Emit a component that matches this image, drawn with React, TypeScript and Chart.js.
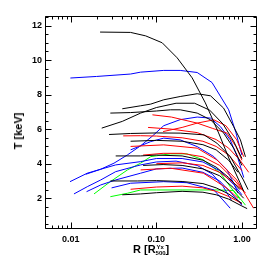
import { useEffect, useRef } from "react";
import { Chart, registerables } from "chart.js";
Chart.register(...registerables);

const X_MIN = 0.005;
const X_MAX = 1.5;
const Y_MIN = 0.22;
const Y_MAX = 12.55;
const xTickValues = [0.01, 0.1, 1];
const xTickLabels = ["0.01", "0.10", "1.00"];
const yTickValues = [2, 4, 6, 8, 10, 12];

// black profiles
const k1 = [[0.022, 11.62], [0.05, 11.6], [0.075, 11.4], [0.117, 11.0], [0.175, 10.13], [0.262, 8.97], [0.374, 7.52], [0.534, 5.78], [0.72, 4.2], [0.95, 2.9], [1.05, 2.4]];
const k2 = [[0.04, 7.18], [0.065, 7.35], [0.086, 7.45], [0.122, 7.7], [0.19, 7.89], [0.3, 8.05], [0.43, 7.93], [0.61, 7.22], [0.8, 6.15], [0.96, 5.38], [1.1, 4.4]];
const k3 = [[0.029, 6.93], [0.05, 6.96], [0.1, 7.05], [0.146, 7.12], [0.19, 7.12], [0.3, 6.93], [0.43, 6.54], [0.61, 5.78], [0.8, 4.9], [1.0, 3.9]];
const k4 = [[0.023, 6.06], [0.04, 6.45], [0.0655, 6.93], [0.1, 7.25], [0.17, 7.5], [0.28, 7.5], [0.42, 7.1], [0.6, 6.3], [0.8, 5.3], [1.0, 4.3]];
const k5 = [[0.028, 5.69], [0.05, 5.75], [0.1, 5.78], [0.19, 5.77], [0.36, 5.67], [0.51, 5.19], [0.73, 4.41], [1.04, 3.06], [1.18, 2.5]];
const k6 = [[0.0335, 4.45], [0.0655, 4.45], [0.1, 4.5], [0.2, 4.45], [0.35, 4.2], [0.5, 3.8], [0.7, 3.2], [0.95, 2.5]];
const k7 = [[0.029, 3.0], [0.06, 3.0], [0.1, 3.02], [0.2, 2.97], [0.35, 2.85], [0.5, 2.6], [0.7, 2.25], [1.0, 1.7]];
const k8 = [[0.04, 2.2], [0.0655, 2.25], [0.1, 2.32], [0.2, 2.4], [0.35, 2.35], [0.5, 2.2], [0.7, 1.95], [1.0, 1.55], [1.15, 1.4]];
const k9 = [[0.05, 5.3], [0.1, 5.35], [0.2, 5.3], [0.35, 5.1], [0.5, 4.8], [0.7, 4.2], [0.9, 3.5]];
const k10 = [[0.07, 3.9], [0.12, 3.95], [0.2, 3.9], [0.35, 3.7], [0.55, 3.3], [0.8, 2.6], [1.05, 2.0]];

// blue profiles
const u1 = [[0.0099, 8.96], [0.02, 9.05], [0.05, 9.19], [0.0655, 9.3], [0.122, 9.4], [0.19, 9.4], [0.3, 9.28], [0.447, 8.7], [0.7, 7.12], [0.85, 5.8], [1.0, 4.5]];
const u2 = [[0.0098, 2.96], [0.0156, 3.45], [0.0224, 3.68], [0.032, 4.03], [0.046, 4.51], [0.066, 5.05], [0.09, 5.6], [0.122, 6.2], [0.19, 6.55], [0.3, 6.7], [0.43, 6.64], [0.56, 6.15], [0.73, 5.38], [0.9, 4.3], [1.05, 3.2]];
const u3 = [[0.0109, 2.25], [0.0156, 2.67], [0.0224, 3.06], [0.0335, 3.54], [0.055, 3.83], [0.0655, 3.93], [0.1, 4.1], [0.17, 4.15], [0.3, 3.9], [0.45, 3.4], [0.6, 2.7], [0.75, 1.9]];
const u4 = [[0.0153, 2.38], [0.0224, 2.77], [0.0335, 3.06], [0.0655, 3.45], [0.1, 3.7], [0.2, 3.75], [0.35, 3.5], [0.55, 3.0], [0.75, 2.3], [1.0, 1.6]];
const u5 = [[0.015, 3.39], [0.0224, 3.68], [0.0335, 3.93], [0.0655, 4.12], [0.1, 4.3], [0.2, 4.3], [0.35, 4.1], [0.55, 3.6], [0.8, 2.8], [1.0, 2.2]];
const u6 = [[0.05, 4.8], [0.086, 5.28], [0.122, 5.48], [0.19, 5.38], [0.3, 4.99], [0.47, 4.41], [0.67, 3.64], [0.8, 2.87], [0.9, 2.3]];
const u7 = [[0.03, 2.6], [0.05, 2.87], [0.122, 2.96], [0.228, 2.9], [0.47, 2.48], [0.6, 1.9], [0.73, 1.42]];

// red profiles
const r1 = [[0.09, 6.83], [0.15, 6.7], [0.3, 6.35], [0.45, 6.05], [0.67, 5.77], [0.85, 5.0], [1.0, 4.2]];
const r2 = [[0.12, 5.86], [0.2, 6.1], [0.3, 6.35], [0.47, 6.54], [0.65, 6.2], [0.87, 5.38], [1.05, 4.4]];
const r3 = [[0.041, 5.61], [0.0655, 5.62], [0.1, 5.6], [0.2, 5.5], [0.35, 5.3], [0.5, 5.0], [0.7, 4.5], [1.0, 3.6]];
const r4 = [[0.05, 5.0], [0.122, 5.09], [0.3, 4.9], [0.51, 4.22], [0.87, 3.06], [1.1, 2.2], [1.37, 1.42]];
const r5 = [[0.0655, 3.64], [0.146, 3.74], [0.355, 3.45], [0.67, 2.58], [0.9, 2.0]];
const r6 = [[0.05, 2.52], [0.1, 2.65], [0.2, 2.7], [0.35, 2.6], [0.5, 2.4], [0.7, 2.1], [1.0, 1.7]];
const r7 = [[0.07, 4.5], [0.12, 4.6], [0.2, 4.6], [0.35, 4.4], [0.55, 3.9], [0.8, 3.1], [1.1, 2.3]];
const r8 = [[0.08, 6.1], [0.15, 6.0], [0.3, 5.8], [0.5, 5.4], [0.7, 4.9], [0.95, 4.2], [1.2, 3.5]];
const r9 = [[0.1, 4.0], [0.2, 4.05], [0.35, 3.9], [0.55, 3.5], [0.75, 3.0], [1.0, 2.5]];

// green profiles
const g1 = [[0.0187, 2.25], [0.029, 2.96], [0.046, 3.64], [0.0655, 4.03], [0.086, 4.41], [0.146, 4.57], [0.228, 4.57], [0.355, 4.22], [0.56, 3.45], [0.73, 2.67], [0.96, 1.9]];
const g2 = [[0.029, 2.09], [0.046, 2.29], [0.0655, 2.48], [0.1, 2.48], [0.2, 2.48], [0.5, 2.48], [0.8, 2.45], [0.95, 2.0], [1.1, 1.6]];

const blackSeries = [k1, k2, k3, k4, k5, k6, k7, k8, k9, k10];
const blueSeries = [u1, u2, u3, u4, u5, u6, u7];
const redSeries = [r1, r2, r3, r4, r5, r6, r7, r8, r9];
const greenSeries = [g1, g2];

const BLACK = "#000000";
const BLUE = "#0000ff";
const RED = "#ff0000";
const GREEN = "#00ff00";

const FONT = "'Liberation Sans', Arial, Helvetica, sans-serif";

const framePlugin = {
  id: "frameTicks",
  afterDraw(chart: any) {
    const { ctx, chartArea, scales } = chart;
    const xs = scales.x;
    const ys = scales.y;
    const L = Math.round(chartArea.left) + 0.5;
    const R = Math.round(chartArea.right) - 0.5;
    const T = Math.round(chartArea.top) + 0.5;
    const B = Math.round(chartArea.bottom) - 0.5;
    ctx.save();
    ctx.strokeStyle = "#000";
    ctx.lineWidth = 1;
    ctx.beginPath();
    ctx.rect(L, T, R - L, B - T);
    const xt: [number, boolean][] = [];
    for (const d of [0.001, 0.01, 0.1, 1]) {
      for (let m = 1; m <= 9; m++) {
        const v = m * d;
        if (v >= X_MIN && v <= X_MAX) xt.push([v, m === 1]);
      }
    }
    for (const [v, major] of xt) {
      const px = Math.round(xs.getPixelForValue(v)) + 0.5;
      const len = major ? 6 : 3;
      ctx.moveTo(px, B);
      ctx.lineTo(px, B - len);
      ctx.moveTo(px, T);
      ctx.lineTo(px, T + len);
    }
    for (let i = 1; i <= 25; i++) {
      const v = i * 0.5;
      if (v < Y_MIN || v > Y_MAX) continue;
      const major = i % 4 === 0;
      const py = Math.round(ys.getPixelForValue(v)) + 0.5;
      const len = major ? 6 : 3;
      ctx.moveTo(L, py);
      ctx.lineTo(L + len, py);
      ctx.moveTo(R, py);
      ctx.lineTo(R - len, py);
    }
    ctx.stroke();
    ctx.restore();
  },
};

function toDataset(series: number[][], color: string) {
  return {
    data: series.map(([x, y]) => ({ x, y })),
    borderColor: color,
    backgroundColor: color,
    borderWidth: 1,
    pointRadius: 0,
    tension: 0,
    fill: false,
  };
}

export default function App() {
  const ref = useRef<HTMLCanvasElement | null>(null);
  useEffect(() => {
    if (!ref.current) return;
    const datasets = [
      ...blackSeries.map((s) => toDataset(s, BLACK)),
      ...redSeries.map((s) => toDataset(s, RED)),
      ...blueSeries.map((s) => toDataset(s, BLUE)),
      ...greenSeries.map((s) => toDataset(s, GREEN)),
    ];
    const chart = new Chart(ref.current, {
      type: "line",
      data: { datasets },
      plugins: [framePlugin],
      options: {
        animation: false,
        responsive: false,
        maintainAspectRatio: false,
        layout: { padding: { top: 16, right: 17, left: 0, bottom: 0 } },
        plugins: { legend: { display: false }, tooltip: { enabled: false } },
        scales: {
          x: {
            type: "logarithmic",
            min: X_MIN,
            max: X_MAX,
            grid: { display: false, drawTicks: false },
            border: { display: false },
            afterBuildTicks: (scale: any) => {
              scale.ticks = xTickValues.map((v) => ({ value: v }));
            },
            afterFit: (scale: any) => {
              scale.height = 36;
            },
            ticks: {
              autoSkip: false,
              maxRotation: 0,
              padding: 5,
              color: "#000",
              font: { family: FONT, size: 9, weight: "bold" },
              callback: (v: any) => {
                const i = xTickValues.findIndex((t) => Math.abs(t - Number(v)) < 1e-9);
                return i >= 0 ? xTickLabels[i] : "";
              },
            },
          },
          y: {
            type: "linear",
            min: Y_MIN,
            max: Y_MAX,
            grid: { display: false, drawTicks: false },
            border: { display: false },
            afterBuildTicks: (scale: any) => {
              scale.ticks = yTickValues.map((v) => ({ value: v }));
            },
            afterFit: (scale: any) => {
              scale.width = 45;
            },
            ticks: {
              autoSkip: false,
              padding: 3,
              color: "#000",
              font: { family: FONT, size: 9, weight: "bold" },
              callback: (v: any) => String(v),
            },
          },
        },
      },
    });
    return () => chart.destroy();
  }, []);

  const titleFont = { fontFamily: FONT, fontWeight: "bold" as const, color: "#000" };
  return (
    <div style={{ position: "absolute", left: 0, top: 0, width: 274, height: 265, background: "#fff" }}>
      <canvas ref={ref} width={274} height={265} style={{ width: 274, height: 265, display: "block" }} />
      <div
        style={{
          ...titleFont,
          position: "absolute",
          left: 18,
          top: 131,
          fontSize: 11,
          lineHeight: "12px",
          whiteSpace: "nowrap",
          transform: "translate(-50%, -50%) rotate(-90deg)",
        }}
      >
        T [keV]
      </div>
      <div
        style={{
          ...titleFont,
          position: "absolute",
          left: 133,
          top: 243,
          height: 14,
          fontSize: 11,
          lineHeight: "12px",
          whiteSpace: "nowrap",
        }}
      >
        <span>R [R</span>
        <span style={{ display: "inline-block", position: "relative", width: 10, height: 12, verticalAlign: "top" }}>
          <span style={{ position: "absolute", left: 1, top: 1, fontSize: 6, lineHeight: "6px" }}>Yx</span>
          <span style={{ position: "absolute", left: 0, top: 7, fontSize: 6, lineHeight: "6px" }}>500</span>
        </span>
        <span>]</span>
      </div>
    </div>
  );
}
